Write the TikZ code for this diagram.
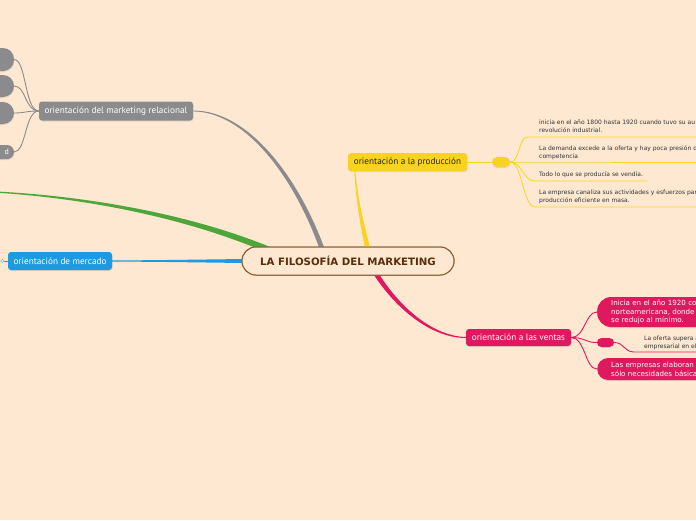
\documentclass[tikz,border=0pt]{standalone}
\usepackage{fontspec}
\setmainfont{PT Sans}
\newfontfamily\smallfont{DejaVu Sans}
\usetikzlibrary{calc,shadows}
\definecolor{bg}{HTML}{FEE8D2}
\definecolor{greyc}{HTML}{8B8B8D}
\definecolor{greenc}{HTML}{4EA53A}
\definecolor{bluec}{HTML}{1D9AE4}
\definecolor{yelc}{HTML}{F9D323}
\definecolor{pinkc}{HTML}{E0195E}
\definecolor{rootline}{HTML}{8A5A2B}
\definecolor{roottext}{HTML}{5A2D0C}
\definecolor{smalltext}{HTML}{333333}
% tapered branch: colour, thin start, control 1, control 2, thick end, half width (number, pt)
\newcommand\branch[6]{%
  \coordinate (nA) at ($(#2)!1pt!90:(#5)$);
  \coordinate (nv) at ($(nA)-(#2)$);
  \fill[#1] ($(#2)+0.6*(nv)$)
    .. controls ($(#3)+{#6*0.35}*(nv)$) and ($(#4)+{#6*0.75}*(nv)$) .. ($(#5)+#6*(nv)$)
    -- ($(#5)-#6*(nv)$)
    .. controls ($(#4)-{#6*0.75}*(nv)$) and ($(#3)-{#6*0.35}*(nv)$) .. ($(#2)-0.6*(nv)$) -- cycle;}
\tikzset{
  topic/.style={rounded corners=3pt, inner sep=0pt, minimum height=18pt,
    font=\fontsize{9.2}{10}\selectfont, text=white,
    drop shadow={opacity=0.2, shadow xshift=0.5pt, shadow yshift=-1pt}},
  pill/.style={inner sep=0pt, drop shadow={opacity=0.2, shadow xshift=0.5pt, shadow yshift=-1pt}},
  smalltxt/.style={anchor=west, inner sep=2pt, align=left, text=smalltext,
    font=\smallfont\fontsize{6}{7.8}\selectfont},
  pilltxt/.style={font=\smallfont\fontsize{7.1}{8.8}\selectfont, text=white, align=left},
  thin/.style={line width=0.9pt},
  rootbox/.style={draw=rootline, line width=1pt, fill=bg, rounded corners=14pt, minimum width=212pt,
    minimum height=28pt, inner sep=0pt, text=roottext,
    font=\smallfont\bfseries\fontsize{10.2}{12}\selectfont},
}
\begin{document}
\begin{tikzpicture}[x=1pt,y=-1pt]
\useasboundingbox (0,0) rectangle (696,520);
\fill[bg] (0,0) rectangle (696,520);
\clip (0,0) rectangle (696,520);

% ---- nodes
\node[rootbox] (root) at (348,261) {LA FILOSOFÍA DEL MARKETING};

\node[topic, fill=greyc, minimum width=154pt, minimum height=19pt] (rel) at (116,111) {orientación del marketing relacional};
\node[topic, fill=bluec, minimum width=104pt] (mer) at (60,261) {orientación de mercado};
\node[topic, fill=yelc, text=black!85, minimum width=119pt] (prod) at (407.5,162) {orientación a la producción};
\node[topic, fill=pinkc, minimum width=105pt, minimum height=17pt] (ven) at (518.5,337.5) {orientación a las ventas};

% ---- grey children (cut at left edge)
\node[pill, fill=greyc, rounded corners=11pt, minimum width=40pt, minimum height=23pt] (g1) at (-6,59.5) {};
\node[pill, fill=greyc, rounded corners=11pt, minimum width=40pt, minimum height=22pt] (g2) at (-6,86) {};
\node[pill, fill=greyc, rounded corners=11pt, minimum width=40pt, minimum height=22pt] (g3) at (-6,113) {};
\node[pill, fill=greyc, rounded corners=7pt, minimum height=14pt, text width=30pt, inner xsep=5pt,
  align=right, text=white, font=\fontsize{8}{9}\selectfont] (g4) at (-6,152) {d};

% ---- yellow children
\node[pill, fill=yelc, rounded corners=5pt, minimum width=18pt, minimum height=10pt] (ypill) at (501,162) {};
\node[smalltxt] (t1) at (537,126.5) {inicia en el año 1800 hasta 1920 cuando tuvo su au\\revolución industrial.};
\node[smalltxt] (t2) at (537,152.5) {La demanda excede a la oferta y hay poca presión d\\competencia};
\node[smalltxt] (t3) at (537,175) {Todo lo que se producía se vendía.};
\node[smalltxt] (t4) at (537,197) {La empresa canaliza sus actividades y esfuerzos par\\producción eficiente en masa.};
\coordinate (u1) at (528,137); \coordinate (u1e) at (700,137);
\coordinate (u2) at (528,162); \coordinate (u2e) at (700,162);
\coordinate (u3) at (535,181); \coordinate (u3e) at (647,181);
\coordinate (u4) at (535,207); \coordinate (u4e) at (700,207);

% ---- pink children
\node[pill, fill=pinkc, rounded corners=14pt, anchor=west, minimum height=30pt, text width=140pt,
  inner xsep=14pt, pilltxt] (p1) at (597,312) {Inicia en el año 1920 co\\norteamericana, donde l\\se redujo al mínimo.};
\node[pill, fill=pinkc, rounded corners=4.5pt, minimum width=17pt, minimum height=9pt] (ppill) at (605.5,342.5) {};
\node[smalltxt] (t5) at (642,343) {La oferta supera a\\empresarial en el};
\coordinate (u5) at (634,352); \coordinate (u5e) at (700,352);
\node[pill, fill=pinkc, rounded corners=11pt, anchor=west, minimum height=22pt, text width=140pt,
  inner xsep=14pt, pilltxt] (p3) at (597,369) {Las empresas elaboran p\\sólo necesidades básicas};

% ---- anchor points of main branches (slightly inside the root box)
\coordinate (mk) at (2.5,261);
\coordinate (rgr) at ($(root.north)+(-25,5)$);
\coordinate (rg) at ($(root.north)+(-73,6)$);
\coordinate (rb) at ($(root.west)+(5,0)$);
\coordinate (ry) at ($(root.north)+(20.5,5)$);
\coordinate (rp) at ($(root.south)+(26,-5)$);
\coordinate (gl) at (-5,192);
\coordinate (py) at ($(prod.south west)+(7,0)$);

% ---- connectors
\draw[greyc, thin] (rel.west) .. controls +(-14,0) and +(12,0) .. (g1.east);
\draw[greyc, thin] (rel.west) .. controls +(-14,0) and +(12,0) .. (g2.east);
\draw[greyc, thin] (rel.west) .. controls +(-14,0) and +(12,0) .. (g3.east);
\draw[greyc, thin] (rel.west) .. controls +(-14,0) and +(12,0) .. (g4.east);

\draw[yelc, line width=0.8pt] (prod.east) -- (ypill.west);
\draw[yelc, line width=0.8pt] (ypill.east) .. controls +(10,0) and +(-10,0) .. (u1) -- (u1e);
\draw[yelc, line width=0.8pt] (ypill.east) -- (u2) -- (u2e);
\draw[yelc, line width=0.8pt] (ypill.east) .. controls +(12,0) and +(-12,0) .. (u3) -- (u3e);
\draw[yelc, line width=0.8pt] (ypill.east) .. controls +(12,0) and +(-12,0) .. (u4) -- (u4e);

\draw[pinkc, thin] (ven.east) .. controls +(14,0) and +(-12,0) .. (p1.west);
\draw[pinkc, thin] (ven.east) .. controls +(14,0) and +(-12,0) .. (ppill.west);
\draw[pinkc, thin] (ven.east) .. controls +(14,0) and +(-12,0) .. (p3.west);
\draw[pinkc, thin] (ppill.east) .. controls +(10,0) and +(-10,0) .. (u5) -- (u5e);

\draw[bluec, line width=0.8pt] (mer.west) -- (mk);
\draw[bluec!60, line width=0.6pt, fill=bg] (mk) circle (1.8);

% tapered main branches
\branch{greyc}{rel.east}{248,111}{298,180}{rgr}{2.6}
\branch{greenc}{gl}{100,198}{200,220}{rg}{3.3}
\branch{bluec}{mer.east}{160,261}{200,261}{rb}{2}
\branch{yelc}{py}{357,200}{362,225}{ry}{2.6}
\branch{pinkc}{ven.west}{430,337}{395,305}{rp}{2.6}

% root on top of the branch ends
\node[rootbox] (root2) at (root.center) {LA FILOSOFÍA DEL MARKETING};
\end{tikzpicture}
\end{document}
